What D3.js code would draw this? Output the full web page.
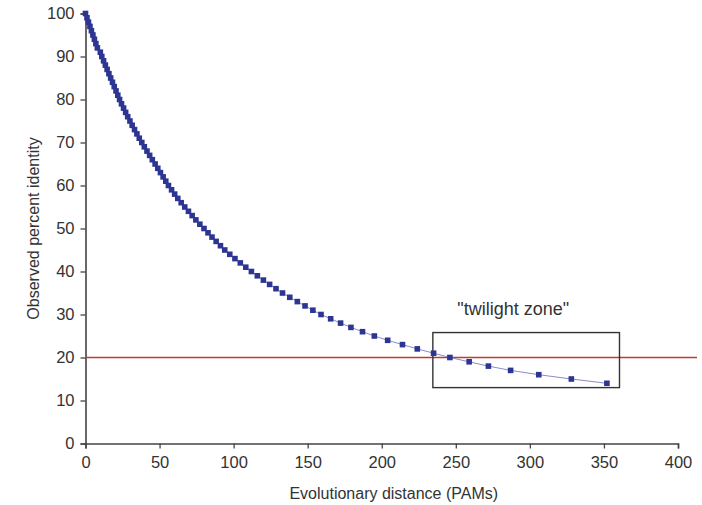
<!DOCTYPE html>
<html><head><meta charset="utf-8">
<script src="https://cdn.jsdelivr.net/npm/d3@7"></script>
<style>body{margin:0;background:#fff;} svg{display:block;font-family:"Liberation Sans",Arial,sans-serif;}</style>
</head><body>
<svg id="c" width="702" height="505"></svg>
<script>
// Evolutionary distance (PAMs) for each observed percent identity
const pams = [0,1,2,3,4,5,6,7,8,10,11,12.2,13.4,14.6,15.8,17,18.2,19.4,20.6,21.8,23,
  24.3,25.7,27.1,28.5,30,31.5,33.1,34.7,36.3,38,39.7,41.5,43.3,45.1,47,
  48.8,50.6,52.4,54.2,56,58.1,60.2,62.3,64.6,67,69.5,72,74.5,77.2,80,
  82.7,85.4,88.2,91.1,94,97.4,100.9,104.5,108.2,112,116,120.1,124.3,128.6,133,
  137.9,143,148.2,153.5,159,165.5,172.2,179.2,187,195,
  204,214,224,235,246,259,272,287,306,328,352];
const identity = [100,99,98,97,96,95,94,93,92,91,90,89,88,87,86,85,84,83,82,81,80,
  79,78,77,76,75,74,73,72,71,70,69,68,67,66,65,
  64,63,62,61,60,59,58,57,56,55,54,53,52,51,50,
  49,48,47,46,45,44,43,42,41,40,39,38,37,36,35,
  34,33,32,31,30,29,28,27,26,25,
  24,23,22,21,20,19,18,17,16,15,14];
const xTicks = [0,50,100,150,200,250,300,350,400];
const yTicks = [0,10,20,30,40,50,60,70,80,90,100];
const thresholdIdentity = [20];
const zoneX = [234.5, 360.5];
const zoneY = [13, 25.8];
const zoneLabel = ["\"twilight zone\""];

const svg = d3.select("#c");
const x = d3.scaleLinear().domain([0,400]).range([85.5,678]);
const y = d3.scaleLinear().domain([0,100]).range([443.5,13.5]);
const textCol = "#333";

// axes
const xa = svg.append("g").attr("transform",`translate(0,${y(0)})`)
  .call(d3.axisBottom(x).tickValues(xTicks).tickSize(5).tickPadding(8));
const ya = svg.append("g").attr("transform",`translate(${x(0)},0)`)
  .call(d3.axisLeft(y).tickValues(yTicks).tickSize(5).tickPadding(6));
[xa,ya].forEach(g=>{
  g.select(".domain").attr("stroke","#444").attr("stroke-width",1.6);
  g.selectAll(".tick line").attr("stroke","#444").attr("stroke-width",1.3);
  g.selectAll(".tick text").attr("fill",textCol).style("font-size","16.5px").style("font-family","'Liberation Sans',Arial,sans-serif");
});

// threshold line
svg.selectAll(".thr").data(thresholdIdentity).enter().append("line")
  .attr("x1",x(0)).attr("x2",697).attr("y1",d=>y(d)).attr("y2",d=>y(d))
  .attr("stroke","#c0393b").attr("stroke-width",1.3);

// twilight zone box
svg.append("rect").attr("x",x(zoneX[0])).attr("y",y(zoneY[1]))
  .attr("width",x(zoneX[1])-x(zoneX[0])).attr("height",y(zoneY[0])-y(zoneY[1]))
  .attr("fill","none").attr("stroke","#333").attr("stroke-width",1.4);
svg.append("text").attr("x",(x(zoneX[0])+x(zoneX[1]))/2-13).attr("y",y(zoneY[1])-18)
  .attr("text-anchor","middle").attr("fill",textCol).style("font-size","18px").text(zoneLabel[0]);

// curve
const pts = pams.map((p,i)=>({x:p,y:identity[i]}));
svg.append("path").datum(pts).attr("fill","none").attr("stroke","#8a8cc8").attr("stroke-width",1)
  .attr("d",d3.line().x(d=>x(d.x)).y(d=>y(d.y)));
svg.selectAll(".pt").data(pts).enter().append("rect")
  .attr("x",d=>x(d.x)-2.8).attr("y",d=>y(d.y)-2.8).attr("width",5.6).attr("height",5.6)
  .attr("fill","#2d3592");

// axis titles
svg.append("text").attr("x",(x(0)+x(400))/2+12).attr("y",499).attr("text-anchor","middle")
  .attr("fill",textCol).style("font-size","16px").text("Evolutionary distance (PAMs)");
svg.append("text").attr("transform",`translate(39,${y(50)}) rotate(-90)`).attr("text-anchor","middle")
  .attr("fill",textCol).style("font-size","16px").text("Observed percent identity");
</script>
</body></html>
